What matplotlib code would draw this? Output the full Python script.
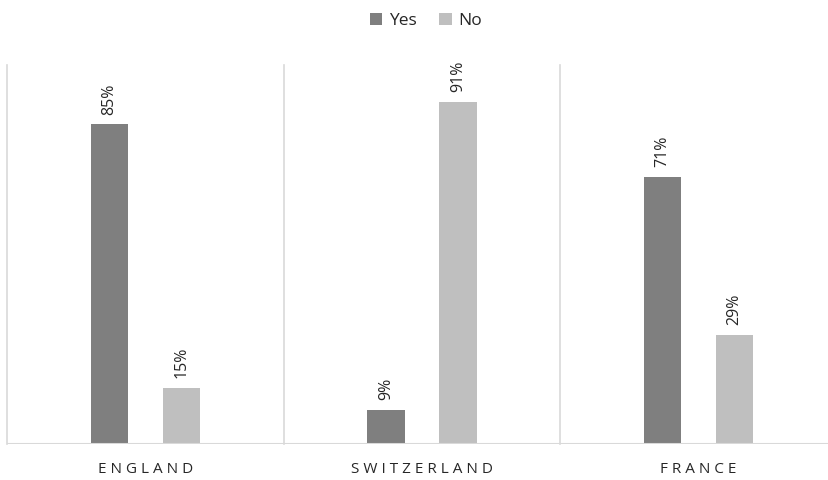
import matplotlib
matplotlib.use("Agg")
import matplotlib.pyplot as plt
import numpy as np

countries = ["ENGLAND", "SWITZERLAND", "FRANCE"]
yes_vals = [85, 9, 71]
no_vals = [15, 91, 29]

plt.rcParams['font.family'] = ['Open Sans', 'DejaVu Sans']

fig = plt.figure(figsize=(8.29, 4.80), dpi=100)
ax = fig.add_axes([7 / 829, 1 - 444 / 480, 830 / 829, (444 - 68) / 480])

x = np.arange(len(countries))
w = 0.135
off = 0.13
b1 = ax.bar(x - off, yes_vals, w, color="#7f7f7f", label="Yes")
b2 = ax.bar(x + off, no_vals, w, color="#bfbfbf", label="No")

for bars, vals in ((b1, yes_vals), (b2, no_vals)):
    for r, v in zip(bars, vals):
        ax.text(r.get_x() + r.get_width() / 2, v + 2.6, f"{v}%", rotation=90,
                ha="center", va="bottom", fontsize=11.5, color="#262626")

ax.set_xlim(-0.5, 2.5)
ax.set_ylim(0, 100)
for xv in [-0.5, 0.5, 1.5]:
    ax.axvline(xv, ymin=0, ymax=1.008, color="#d9d9d9", lw=1.2, clip_on=False)
ax.axhline(0, color="#d9d9d9", lw=1.5)

for s in ax.spines.values():
    s.set_visible(False)
ax.set_yticks([])
ax.set_xticks(x)
ax.set_xticklabels([" ".join(c) for c in countries], fontsize=11, color="#262626")
ax.tick_params(axis="x", length=0, pad=13)

fig.legend(loc="upper center", bbox_to_anchor=(0.514, 1.005), ncol=2, frameon=False,
           fontsize=12.5, handlelength=0.7, handleheight=0.7, handletextpad=0.4,
           columnspacing=1.3, labelcolor="#262626")

fig.savefig("out.png", dpi=100)
